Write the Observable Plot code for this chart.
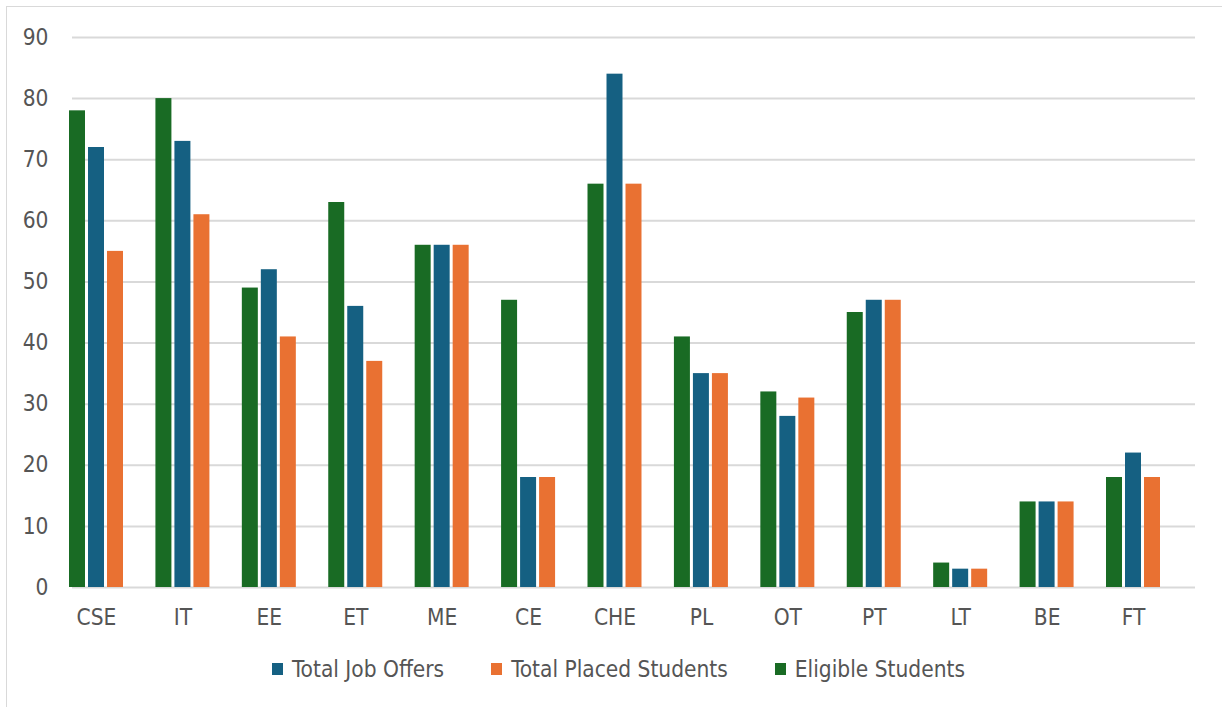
<!DOCTYPE html>
<html>
<head>
<meta charset="utf-8">
<script src="https://cdn.jsdelivr.net/npm/d3@7"></script>
<script src="https://cdn.jsdelivr.net/npm/@observablehq/plot@0.6"></script>
<style>
  html, body { margin: 0; padding: 0; background: #fff; }
  body { width: 1222px; height: 707px; position: relative; overflow: hidden;
         font-family: "DejaVu Sans Condensed", "DejaVu Sans", sans-serif; font-stretch: condensed; }
  #frame { position: absolute; left: 6px; top: 6px; width: 1230px; height: 720px;
           border: 1.5px solid #d9d9d9; box-sizing: border-box; }
  #chart { position: absolute; left: 0; top: 0; }
  #legend { position: absolute; left: 0; top: 657px; width: 1237px; display: flex;
            justify-content: center; gap: 47px; font-size: 22.5px; line-height: 24px; color: #555; }
  .item { display: flex; align-items: center; }
  .sw { width: 11px; height: 12px; margin-right: 9px; display: inline-block; }
</style>
</head>
<body>
<div id="frame"></div>
<div id="chart"></div>
<div id="legend"></div>
<script>
const categories = ["CSE", "IT", "EE", "ET", "ME", "CE", "CHE", "PL", "OT", "PT", "LT", "BE", "FT"];
const eligibleStudents = [78, 80, 49, 63, 56, 47, 66, 41, 32, 45, 4, 14, 18];
const totalJobOffers   = [72, 73, 52, 46, 56, 18, 84, 35, 28, 47, 3, 14, 22];
const totalPlaced      = [55, 61, 41, 37, 56, 18, 66, 35, 31, 47, 3, 14, 18];
const yTicks = [0, 10, 20, 30, 40, 50, 60, 70, 80, 90];

const seriesNames = ["Eligible Students", "Total Job Offers", "Total Placed Students"];
const seriesValues = [eligibleStudents, totalJobOffers, totalPlaced];
const seriesColors = ["#196B24", "#156082", "#E97132"];
const legendOrder = [1, 2, 0];

const data = seriesNames.flatMap((s, i) =>
  categories.map((c, j) => ({category: c, series: s, value: seriesValues[i][j]})));

const barOffsets = [-19, 0, 19];

const chart = Plot.plot({
  width: 1222,
  height: 640,
  marginLeft: 53,
  marginRight: 46,
  marginTop: 37,
  marginBottom: 53,
  style: {fontSize: "22.5px", fontFamily: "'DejaVu Sans Condensed', 'DejaVu Sans', sans-serif", fontStretch: "condensed", color: "#555", background: "transparent"},
  x: {domain: categories, paddingInner: 0.8149, paddingOuter: 0.405, round: false, label: null},
  y: {domain: [0, 90], label: null},
  marks: [
    Plot.ruleY(yTicks, {dx: 19, stroke: "#d9d9d9", strokeWidth: 2}),
    ...seriesNames.map((s, i) =>
      Plot.barY(data.filter(d => d.series === s), {
        x: "category", y: "value", fill: seriesColors[i], dx: barOffsets[i]
      })),
    Plot.axisY({ticks: yTicks, tickSize: 0, tickPadding: 5, label: null}),
    Plot.axisX({tickSize: 0, tickPadding: 22, label: null})
  ]
});
document.getElementById("chart").appendChild(chart);

const legend = document.getElementById("legend");
for (const i of legendOrder) {
  const item = document.createElement("div");
  item.className = "item";
  const sw = document.createElement("span");
  sw.className = "sw";
  sw.style.background = seriesColors[i];
  const label = document.createElement("span");
  label.textContent = seriesNames[i];
  item.appendChild(sw);
  item.appendChild(label);
  legend.appendChild(item);
}
</script>
</body>
</html>
